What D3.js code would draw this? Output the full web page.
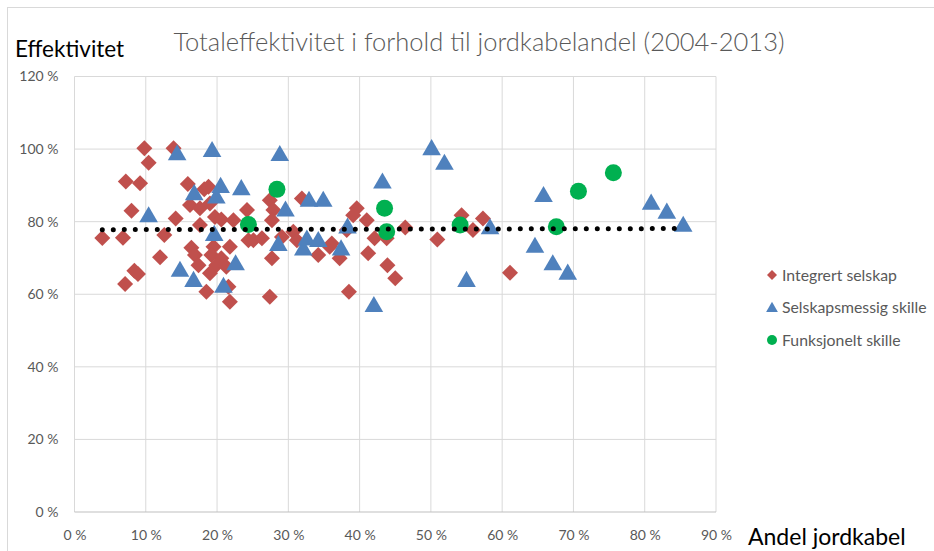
<!DOCTYPE html>
<html>
<head>
<meta charset="utf-8">
<script src="https://cdn.jsdelivr.net/npm/d3@7"></script>
<style>
  body { margin: 0; background: #fff; }
  text { font-family: Lato, "Open Sans", sans-serif; }
</style>
</head>
<body>
<svg id="chart"></svg>
<script>
// values, [andel jordkabel %, effektivitet %]
var integrert = [[3.9,75.5],[6.8,75.6],[7.2,91.1],[9.2,90.6],[8.0,83.0],[7.1,62.8],[8.4,66.5],[8.9,65.6],
  [9.8,100.2],[10.4,96.2],[12.6,76.3],[12.0,70.2],[13.9,100.2],[14.2,80.9],[15.9,90.4],[18.2,88.9],
  [18.8,89.6],[16.2,84.6],[17.6,83.7],[19.0,85.0],[19.7,81.3],[20.6,80.6],[22.3,80.4],[24.2,83.2],
  [17.6,79.1],[24.4,74.9],[16.4,72.8],[16.9,70.8],[19.5,73.1],[21.8,73.1],[19.2,70.8],[20.6,69.9],
  [17.4,68.0],[19.9,68.0],[21.3,67.6],[19.0,65.8],[18.5,60.7],[21.8,57.9],[21.6,62.1],[25.1,74.9],
  [26.3,75.4],[27.4,85.9],[27.9,83.2],[27.7,80.4],[29.1,75.8],[30.7,77.2],[31.2,74.9],[31.9,86.4],
  [27.7,69.9],[27.4,59.3],[34.2,70.8],[35.8,73.1],[36.1,74.0],[37.2,69.9],[38.2,77.7],[38.5,60.7],
  [39.6,83.7],[39.1,81.8],[41.0,80.4],[41.2,71.3],[42.1,75.4],[43.8,75.4],[43.9,68.0],[45.0,64.4],
  [46.4,78.4],[50.9,75.1],[54.3,81.8],[55.9,77.7],[57.3,80.9],[61.1,65.9]];
var selskapsmessig = [[10.4,81.7],[14.4,98.8],[14.8,66.7],[16.7,63.9],[16.8,87.8],[19.3,99.7],[19.9,86.9],
  [20.5,89.8],[19.6,76.6],[23.4,89.2],[22.6,68.5],[20.9,62.3],[28.8,98.6],[29.6,83.3],[28.6,73.8],
  [32.9,86.0],[34.9,86.0],[32.1,72.6],[32.6,75.3],[34.2,74.9],[38.3,78.6],[37.4,72.6],[43.2,91.0],
  [42.0,57.0],[50.1,100.2],[51.9,96.2],[55.0,63.9],[58.3,78.4],[64.6,73.3],[65.8,87.3],[67.1,68.5],
  [69.2,65.9],[80.9,85.2],[83.1,82.7],[85.4,79.1]];
var funksjonelt = [[24.4,79.2],[28.4,88.9],[43.5,83.7],[43.8,77.2],[54.1,79.1],[67.6,78.6],[70.7,88.4],[75.6,93.5]];
var trend = [[3.9,77.8],[85.4,78.1]];

var xTicks = [0,10,20,30,40,50,60,70,80,90];
var yTicks = [0,20,40,60,80,100,120];
var legendNames = ["Integrert selskap","Selskapsmessig skille","Funksjonelt skille"];

var margin = {top: 76.5, right: 218, bottom: 39, left: 74.5};
var W = 934, H = 551;
var width = W - margin.left - margin.right;
var height = H - margin.top - margin.bottom;

var root = d3.select("#chart").attr("width", W).attr("height", H);

// chart area border
root.append("rect")
  .attr("x", 7.5).attr("y", 7.5)
  .attr("width", W).attr("height", H)
  .attr("fill", "none").attr("stroke", "#d9d9d9");

var svg = root.append("g")
  .attr("transform", "translate(" + margin.left + "," + margin.top + ")");

var x = d3.scaleLinear().domain([0, 90]).range([0, width]);
var y = d3.scaleLinear().domain([0, 120]).range([height, 0]);

// gridlines
svg.append("g").selectAll("line").data(xTicks).enter().append("line")
  .attr("x1", d => x(d)).attr("x2", d => x(d))
  .attr("y1", 0).attr("y2", height)
  .attr("stroke", "#d9d9d9");
svg.append("g").selectAll("line").data(yTicks).enter().append("line")
  .attr("x1", 0).attr("x2", width)
  .attr("y1", d => y(d)).attr("y2", d => y(d))
  .attr("stroke", d => d == 0 ? "#bfbfbf" : "#d9d9d9");

var xAxis = d3.axisBottom(x).tickValues(xTicks).tickSize(0).tickPadding(18)
  .tickFormat(d => d + " %");
var yAxis = d3.axisLeft(y).tickValues(yTicks).tickSize(0).tickPadding(16)
  .tickFormat(d => d + " %");

svg.append("g").attr("transform", "translate(0," + height + ")").call(xAxis)
  .call(g => g.select(".domain").remove());
svg.append("g").call(yAxis)
  .call(g => g.select(".domain").remove());
svg.selectAll(".tick text").attr("fill", "#595959").attr("font-size", 14)
  .attr("font-family", "Lato, sans-serif");

var diamond = d3.symbol().type(d3.symbolSquare).size(128);
var tri = d3.symbol().type(d3.symbolTriangle).size(150);

svg.append("g").selectAll("path").data(integrert).enter().append("path")
  .attr("d", diamond)
  .attr("transform", d => "translate(" + x(d[0]) + "," + y(d[1]) + ") rotate(45)")
  .attr("fill", "#c0504d");

svg.append("g").selectAll("path").data(selskapsmessig).enter().append("path")
  .attr("d", tri)
  .attr("transform", d => "translate(" + x(d[0]) + "," + (y(d[1]) + 1.5) + ")")
  .attr("fill", "#4f81bd");

svg.append("g").selectAll("circle").data(funksjonelt).enter().append("circle")
  .attr("cx", d => x(d[0])).attr("cy", d => y(d[1]))
  .attr("r", 8.5)
  .attr("fill", "#00b050");

// dotted trend line
svg.append("path")
  .datum(trend)
  .attr("d", d3.line().x(d => x(d[0])).y(d => y(d[1])))
  .attr("fill", "none")
  .attr("stroke", "#000")
  .attr("stroke-width", 5)
  .attr("stroke-linecap", "round")
  .attr("stroke-dasharray", "0 11");

// titles
root.append("text")
  .attr("x", 479).attr("y", 51)
  .attr("text-anchor", "middle")
  .attr("font-size", 25.5)
  .attr("font-weight", 300)
  .attr("fill", "#595959")
  .text("Totaleffektivitet i forhold til jordkabelandel (2004-2013)");
root.append("text")
  .attr("x", 15).attr("y", 57)
  .attr("font-size", 22.5)
  .attr("font-weight", 400)
  .attr("fill", "#000")
  .text("Effektivitet");
root.append("text")
  .attr("x", 748).attr("y", 545)
  .attr("font-size", 23)
  .attr("font-weight", 400)
  .attr("fill", "#000")
  .text("Andel jordkabel");

// legend
var legend = root.append("g").attr("transform", "translate(772,275)");
var rows = legend.selectAll("g").data(legendNames).enter().append("g")
  .attr("transform", (d, i) => "translate(0," + (i * 32.5) + ")");
rows.each(function(d, i) {
  var g = d3.select(this);
  if (i == 0) g.append("path").attr("d", d3.symbol().type(d3.symbolSquare).size(50))
    .attr("transform", "rotate(45)").attr("fill", "#c0504d");
  if (i == 1) g.append("path").attr("d", d3.symbol().type(d3.symbolTriangle).size(60))
    .attr("transform", "translate(0,1)").attr("fill", "#4f81bd");
  if (i == 2) g.append("circle").attr("r", 5).attr("fill", "#00b050");
});
rows.append("text")
  .attr("x", 10).attr("y", 5.5)
  .attr("font-size", 15.8)
  .attr("fill", "#595959")
  .text(d => d);
</script>
</body>
</html>
